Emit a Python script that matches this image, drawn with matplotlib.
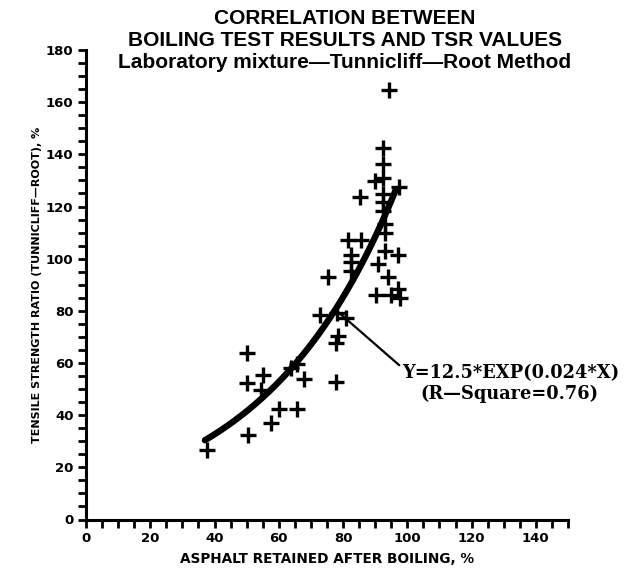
import matplotlib
matplotlib.use("Agg")
import matplotlib.pyplot as plt
from matplotlib.ticker import MultipleLocator
import numpy as np

# Asphalt retained after boiling (%) and tensile strength ratio (%) per specimen
retained = [37.8, 50.3, 57.6, 60.2, 65.7, 50.1, 54.4, 55.2, 50.1, 63.8,
            65.7, 67.9, 77.9, 72.7, 77.9, 78.3, 78.2, 81.0, 75.4, 81.5,
            85.6, 82.6, 82.6, 82.6, 91.0, 93.0, 97.2, 94.0, 90.4, 95.0,
            97.2, 97.8, 93.0, 93.0, 89.8, 92.5, 85.2, 92.5, 92.5, 92.5,
            97.3, 92.5, 92.5, 94.3]
tsr = [26.5, 32.3, 37.0, 42.2, 42.2, 52.2, 49.6, 55.5, 64.0, 58.0,
       59.5, 53.8, 52.6, 78.5, 67.5, 70.5, 79.3, 77.2, 92.8, 107.3,
       107.3, 101.3, 98.7, 95.1, 97.8, 103.0, 101.3, 93.1, 86.2, 86.2,
       88.2, 85.0, 113.2, 109.9, 129.9, 130.8, 123.8, 124.8, 121.6, 118.4,
       127.3, 136.2, 142.3, 164.5]

# Exponential regression Y = a * exp(b * X)
fit_a = 12.5
fit_b = 0.024
fit_r2 = 0.76
fit_x_range = [37.0, 96.5]

title_lines = ["CORRELATION BETWEEN",
               "BOILING TEST RESULTS AND TSR VALUES",
               "Laboratory mixture\u2014Tunnicliff\u2014Root Method"]
x_label = "ASPHALT RETAINED AFTER BOILING, %"
y_label = "TENSILE STRENGTH RATIO (TUNNICLIFF\u2014ROOT), %"

fig = plt.figure(figsize=(6.4, 5.72), dpi=100)
ax = fig.add_axes([86 / 640, 52.5 / 572, 482 / 640, 469.5 / 572])

ax.set_xlim(0, 150)
ax.set_ylim(0, 180)

# fitted curve
xf = np.linspace(fit_x_range[0], fit_x_range[1], 200)
yf = fit_a * np.exp(fit_b * xf)
ax.plot(xf, yf, color="black", lw=4.6, solid_capstyle="round", zorder=3)

# observations
ax.plot(retained, tsr, ls="none", marker="+", ms=11, mew=2.4,
        color="black", zorder=4)

# regression label with leader line from the curve
x0 = 77.6
ax.annotate(f"Y={fit_a}*EXP({fit_b}*X)",
            xy=(x0, fit_a * np.exp(fit_b * x0)), xycoords="data",
            xytext=(402, 572 - 373), textcoords="figure pixels",
            ha="left", va="center", fontsize=12.8, fontweight="bold",
            family="DejaVu Serif",
            arrowprops=dict(arrowstyle="-", lw=1.6, color="black",
                            shrinkA=0, shrinkB=0, relpos=(0, 0.8)))
fig.text(420 / 640, 1 - 394 / 572, f"(R\u2014Square={fit_r2})",
         ha="left", va="center", fontsize=12.8, fontweight="bold",
         family="DejaVu Serif")

# axes styling
for side in ("top", "right"):
    ax.spines[side].set_visible(False)
for side in ("left", "bottom"):
    ax.spines[side].set_linewidth(2.2)

ax.xaxis.set_major_locator(MultipleLocator(20))
ax.xaxis.set_minor_locator(MultipleLocator(5))
ax.yaxis.set_major_locator(MultipleLocator(20))
ax.yaxis.set_minor_locator(MultipleLocator(5))
ax.tick_params(which="both", direction="out", length=6, width=2)
ax.tick_params(axis="both", labelsize=9.5, pad=3)
for lbl in ax.get_xticklabels() + ax.get_yticklabels():
    lbl.set_fontweight("bold")
    lbl.set_family("DejaVu Sans")

ax.set_xlabel(x_label, fontsize=9.8, fontweight="bold",
              family="DejaVu Sans", labelpad=5)
ax.set_ylabel(y_label, fontsize=8, fontweight="bold",
              family="DejaVu Sans", labelpad=3)

# three-line heading
for text, ypix in zip(title_lines, (19, 41, 63)):
    fig.text(345 / 640, 1 - ypix / 572, text, ha="center", va="center",
             fontsize=15, fontweight="bold", family="Liberation Sans")

fig.savefig("out.png", dpi=100, facecolor="white")
